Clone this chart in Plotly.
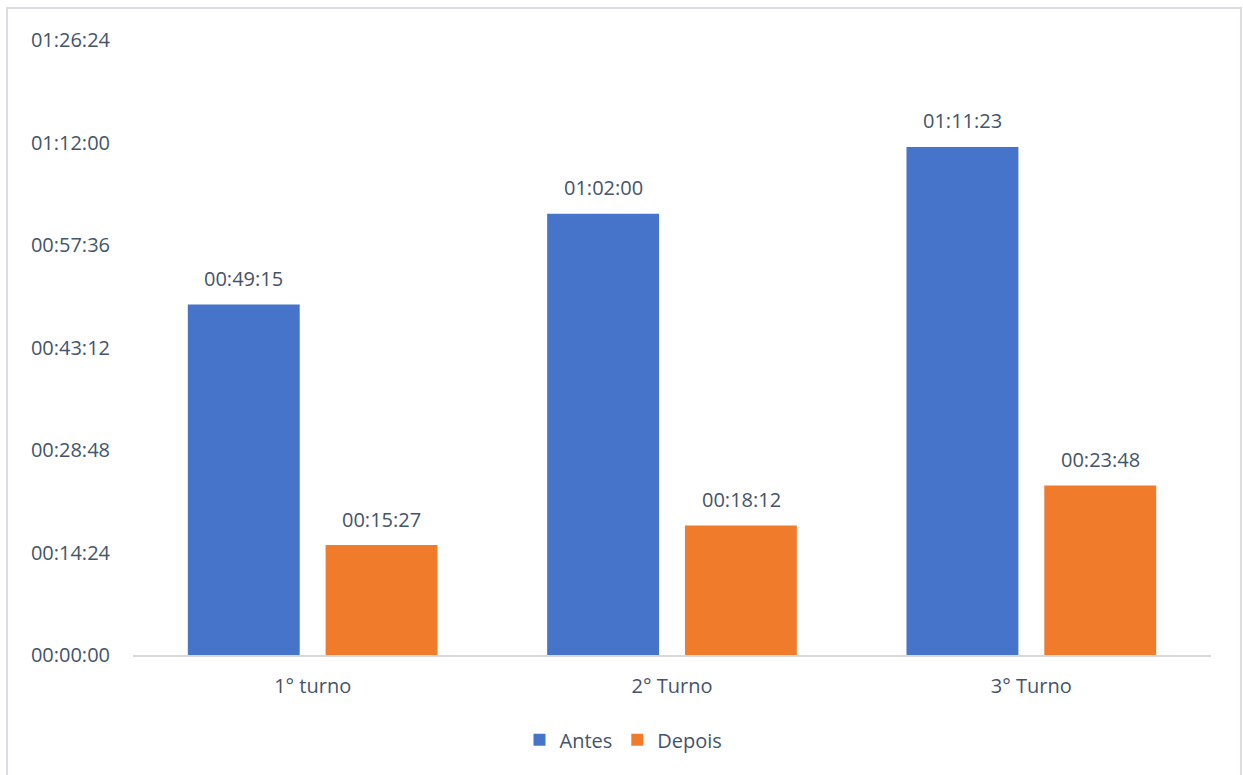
import plotly.graph_objects as go

categories = ["1° turno", "2° Turno", "3° Turno"]
antes_labels = ["00:49:15", "01:02:00", "01:11:23"]
depois_labels = ["00:15:27", "00:18:12", "00:23:48"]
tick_labels = ["00:00:00", "00:14:24", "00:28:48", "00:43:12", "00:57:36", "01:12:00", "01:26:24"]


def to_seconds(s):
    h, m, sec = (int(p) for p in s.split(":"))
    return h * 3600 + m * 60 + sec


antes = [to_seconds(s) for s in antes_labels]
depois = [to_seconds(s) for s in depois_labels]
tick_vals = [to_seconds(s) for s in tick_labels]

TEXT = "#44546A"
FONT = "Open Sans"
FS = 20

fig = go.Figure()
fig.add_trace(go.Bar(
    name="Antes", x=categories, y=antes,
    marker=dict(color="#4674CA", line=dict(width=0)),
))
fig.add_trace(go.Bar(
    name="Depois", x=categories, y=depois,
    marker=dict(color="#EF7B2B", line=dict(width=0)),
))

annotations = []
for cat, v, lab in zip(categories, antes, antes_labels):
    annotations.append(dict(x=cat, y=v, xref="x", yref="y", text=lab, showarrow=False,
                            xshift=-69, yshift=26, yanchor="middle",
                            font=dict(size=FS, color=TEXT, family=FONT)))
for cat, v, lab in zip(categories, depois, depois_labels):
    annotations.append(dict(x=cat, y=v, xref="x", yref="y", text=lab, showarrow=False,
                            xshift=69, yshift=26, yanchor="middle",
                            font=dict(size=FS, color=TEXT, family=FONT)))

fig.update_layout(
    width=1243, height=775,
    margin=dict(l=133, r=32, t=40, b=120),
    paper_bgcolor="white", plot_bgcolor="white",
    font=dict(family=FONT, size=FS, color=TEXT),
    barmode="group", bargap=0.233, bargroupgap=0.188,
    showlegend=True,
    legend=dict(orientation="h", x=0.455, xanchor="center", y=-0.138, yanchor="middle",
                font=dict(size=FS, color=TEXT), itemwidth=30, traceorder="normal"),
    xaxis=dict(showgrid=False, showline=True, linecolor="#D9D9D9", linewidth=2,
               ticks="", tickfont=dict(size=FS, color=TEXT), ticklabelstandoff=12),
    yaxis=dict(range=[0, 5184], tickvals=tick_vals, ticktext=tick_labels, showgrid=False,
               showline=False, zeroline=False, ticks="", tickfont=dict(size=FS, color=TEXT),
               ticklabelstandoff=22),
    annotations=annotations,
    shapes=[dict(type="rect", xref="paper", yref="paper",
                 x0=(7 - 133) / 1078, x1=(1241 - 133) / 1078,
                 y0=(655 - 790) / 615, y1=(655 - 8) / 615,
                 line=dict(color="#D9DDE3", width=2), fillcolor="rgba(0,0,0,0)", layer="below")],
)

fig.write_html("out.html")
